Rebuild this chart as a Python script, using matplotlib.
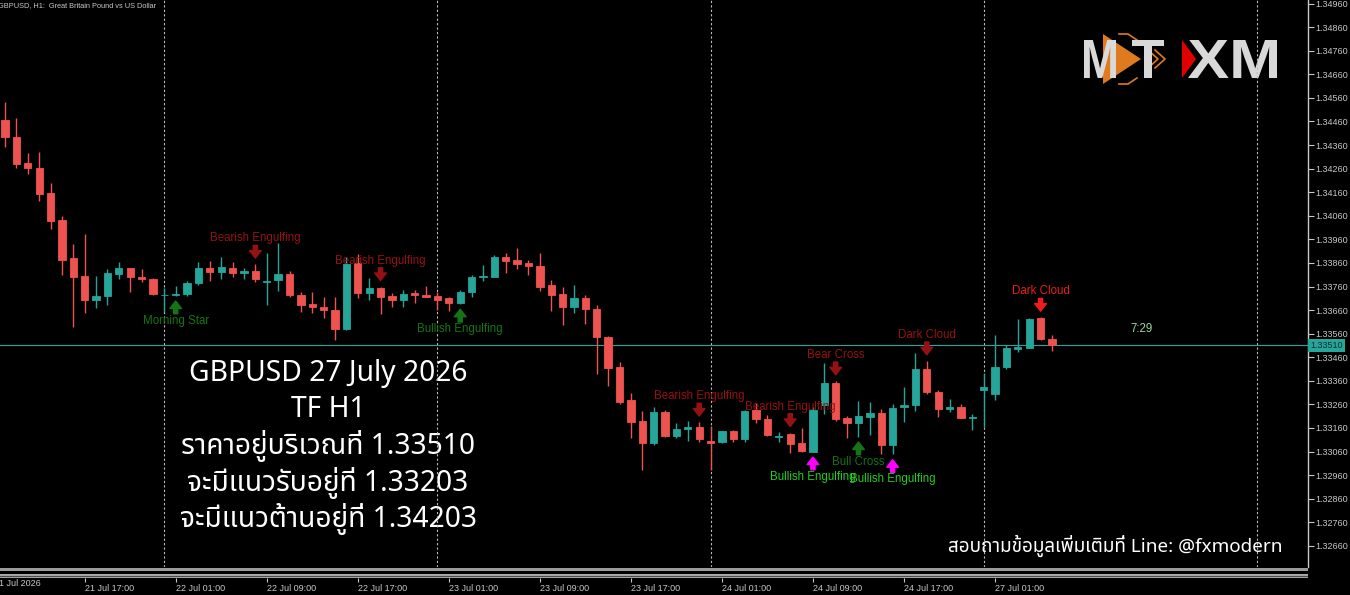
import matplotlib
matplotlib.use('Agg')
import matplotlib.pyplot as plt
from matplotlib.patches import Polygon, PathPatch
from matplotlib.textpath import TextPath
from matplotlib.font_manager import FontProperties
from matplotlib.transforms import Affine2D, blended_transform_factory

# GBPUSD H1, 21 Jul 10:00 .. 27 Jul 06:00
opens = [1.34466, 1.34395, 1.34282, 1.34264, 1.34158, 1.34041, 1.33880, 1.33805, 1.33703, 1.33720,
         1.33813, 1.33837, 1.33802, 1.33792, 1.33722, 1.33724, 1.33727, 1.33773, 1.33840, 1.33823,
         1.33840, 1.33819, 1.33827, 1.33778, 1.33788, 1.33813, 1.33724, 1.33684, 1.33674, 1.33660,
         1.33578, 1.33858, 1.33731, 1.33752, 1.33720, 1.33703, 1.33731, 1.33724, 1.33721, 1.33710,
         1.33689, 1.33738, 1.33799, 1.33802, 1.33884, 1.33872, 1.33858, 1.33847, 1.33766, 1.33728,
         1.33672, 1.33712, 1.33663, 1.33545, 1.33417, 1.33279, 1.33191, 1.33095, 1.33229, 1.33126,
         1.33154, 1.33165, 1.33106, 1.33099, 1.33147, 1.33112, 1.33236, 1.33198, 1.33122, 1.33134,
         1.33095, 1.33059, 1.33257, 1.33349, 1.33204, 1.33180, 1.33208, 1.33222, 1.33088, 1.33248,
         1.33256, 1.33411, 1.33314, 1.33240, 1.33249, 1.33201, 1.33322, 1.33304, 1.33417, 1.33495,
         1.33499, 1.33625, 1.33537]
highs = [1.34544, 1.34476, 1.34327, 1.34332, 1.34198, 1.34059, 1.33940, 1.33983, 1.33805, 1.33833,
         1.33865, 1.33840, 1.33834, 1.33797, 1.33755, 1.33763, 1.33783, 1.33863, 1.33868, 1.33886,
         1.33863, 1.33840, 1.33854, 1.33901, 1.33943, 1.33827, 1.33738, 1.33738, 1.33717, 1.33717,
         1.33884, 1.33898, 1.33795, 1.33759, 1.33734, 1.33745, 1.33745, 1.33762, 1.33738, 1.33714,
         1.33745, 1.33809, 1.33851, 1.33894, 1.33901, 1.33922, 1.33872, 1.33901, 1.33788, 1.33757,
         1.33766, 1.33724, 1.33682, 1.33550, 1.33438, 1.33307, 1.33232, 1.33250, 1.33236, 1.33180,
         1.33190, 1.33184, 1.33168, 1.33148, 1.33151, 1.33236, 1.33265, 1.33215, 1.33142, 1.33140,
         1.33159, 1.33250, 1.33434, 1.33359, 1.33211, 1.33276, 1.33271, 1.33240, 1.33262, 1.33335,
         1.33479, 1.33444, 1.33321, 1.33283, 1.33262, 1.33218, 1.33392, 1.33554, 1.33512, 1.33621,
         1.33625, 1.33629, 1.33554]
lows = [1.34350, 1.34261, 1.34236, 1.34123, 1.34004, 1.33809, 1.33590, 1.33649, 1.33670, 1.33682,
        1.33791, 1.33738, 1.33780, 1.33724, 1.33652, 1.33721, 1.33720, 1.33766, 1.33783, 1.33792,
        1.33799, 1.33792, 1.33780, 1.33682, 1.33741, 1.33717, 1.33650, 1.33646, 1.33625, 1.33533,
        1.33575, 1.33710, 1.33703, 1.33643, 1.33672, 1.33674, 1.33691, 1.33717, 1.33660, 1.33657,
        1.33686, 1.33717, 1.33785, 1.33799, 1.33819, 1.33833, 1.33809, 1.33742, 1.33656, 1.33597,
        1.33646, 1.33601, 1.33389, 1.33338, 1.33260, 1.33116, 1.32982, 1.33088, 1.33123, 1.33119,
        1.33105, 1.33099, 1.32982, 1.33098, 1.33102, 1.33102, 1.33182, 1.33127, 1.33099, 1.33055,
        1.33059, 1.33059, 1.33219, 1.33191, 1.33119, 1.33123, 1.33130, 1.33048, 1.33048, 1.33187,
        1.33232, 1.33303, 1.33205, 1.33228, 1.33201, 1.33151, 1.33165, 1.33279, 1.33409, 1.33483,
        1.33498, 1.33533, 1.33488]
closes = [1.34393, 1.34278, 1.34261, 1.34154, 1.34039, 1.33874, 1.33802, 1.33703, 1.33721, 1.33816,
          1.33837, 1.33799, 1.33791, 1.33728, 1.33725, 1.33730, 1.33773, 1.33840, 1.33820, 1.33843,
          1.33819, 1.33826, 1.33791, 1.33783, 1.33813, 1.33724, 1.33682, 1.33673, 1.33660, 1.33578,
          1.33854, 1.33731, 1.33752, 1.33717, 1.33703, 1.33728, 1.33724, 1.33717, 1.33703, 1.33689,
          1.33738, 1.33802, 1.33806, 1.33886, 1.33869, 1.33854, 1.33847, 1.33759, 1.33724, 1.33672,
          1.33712, 1.33663, 1.33545, 1.33416, 1.33271, 1.33187, 1.33095, 1.33226, 1.33126, 1.33156,
          1.33163, 1.33112, 1.33098, 1.33147, 1.33113, 1.33233, 1.33198, 1.33130, 1.33126, 1.33093,
          1.33064, 1.33236, 1.33349, 1.33198, 1.33180, 1.33212, 1.33222, 1.33088, 1.33246, 1.33257,
          1.33409, 1.33313, 1.33239, 1.33248, 1.33201, 1.33208, 1.33332, 1.33420, 1.33498, 1.33502,
          1.33622, 1.33536, 1.33510]

current_price = 1.33510
price_ticks = [1.32660 + 0.001 * k for k in range(24)]

time_tick_bars = [7, 15, 23, 31, 39, 47, 55, 63, 71, 79, 87]
time_tick_labels = ['21 Jul 17:00', '22 Jul 01:00', '22 Jul 09:00', '22 Jul 17:00', '23 Jul 01:00',
                    '23 Jul 09:00', '23 Jul 17:00', '24 Jul 01:00', '24 Jul 09:00', '24 Jul 17:00',
                    '27 Jul 01:00']
first_label = '21 Jul 2026'
day_sep_bars = [14, 38, 62, 86, 110]

# candle patterns: bar, name, side, text colour, arrow colour
pat_bar = [15, 22, 33, 40, 61, 69, 71, 73, 75, 78, 81, 91]
pat_name = ['Morning Star', 'Bearish Engulfing', 'Bearish Engulfing', 'Bullish Engulfing',
            'Bearish Engulfing', 'Bearish Engulfing', 'Bullish Engulfing', 'Bear Cross',
            'Bull Cross', 'Bullish Engulfing', 'Dark Cloud', 'Dark Cloud']
pat_side = ['below', 'above', 'above', 'below', 'above', 'above', 'below', 'above',
            'below', 'below', 'above', 'above']
DKG, DKR, BRG, MAG, BRR = '#157415', '#961212', '#22cc22', '#ff00ff', '#ee1c1c'
pat_tcol = [DKG, DKR, DKR, DKG, DKR, DKR, BRG, DKR, DKG, BRG, DKR, BRR]
pat_acol = [DKG, DKR, DKR, DKG, DKR, DKR, MAG, DKR, DKG, MAG, DKR, BRR]

info_lines = ['GBPUSD 27 July 2026', 'TF H1', 'ราคาอยู่บริเวณที่ 1.33510',
              'จะมีแนวรับอยู่ที่ 1.33203', 'จะมีแนวต้านอยู่ที่ 1.34203']
contact = 'สอบถามข้อมูลเพิ่มเติมที่ Line: @fxmodern'

BULL = '#26a69a'
BEAR = '#ef5350'
GREY = '#c8c8c8'
W, H = 1350, 595

fig = plt.figure(figsize=(13.5, 5.95), dpi=100, facecolor='black')

# overlay in pixel units (below the chart so separators run over it)
ov = fig.add_axes([0, 0, 1, 1], facecolor='none', zorder=0)
ov.set_xlim(0, W)
ov.set_ylim(H, 0)
ov.axis('off')

ax = fig.add_axes([0, 28 / H, 1308 / W, 567 / H], facecolor='none', zorder=1)
ax.set_xlim(-0.44, 114.5)
ax.set_ylim(1.325705, 1.34975)

n = len(opens)
for i in range(n):
    o, h, l, c = opens[i], highs[i], lows[i], closes[i]
    col = BULL if c >= o else BEAR
    ax.vlines(i, l, h, color=col, lw=1.0, zorder=3)
    ax.bar(i, abs(c - o), bottom=min(o, c), width=0.64, color=col,
           edgecolor=col, linewidth=0.6, zorder=4)

for b in day_sep_bars:
    ax.axvline(b, color='#bdbdbd', lw=0.8, ls=(0, (2, 2)), zorder=2)

ax.axhline(current_price, color=BULL, lw=0.8, zorder=2)

lab_font = dict(family='Liberation Sans', size=8.3)
arrow_style = 'simple,head_length=0.45,head_width=0.7,tail_width=0.25'
for b, name, side, tc, ac in zip(pat_bar, pat_name, pat_side, pat_tcol, pat_acol):
    if side == 'above':
        y = highs[b]
        ax.annotate('', xy=(b, y), xytext=(0, 19), textcoords='offset pixels',
                    arrowprops=dict(arrowstyle=arrow_style, color=ac, shrinkA=0, shrinkB=4.5,
                                    mutation_scale=12), zorder=5)
        ax.annotate(name, xy=(b, y), xytext=(0, 26), textcoords='offset pixels',
                    ha='center', va='center', color=tc, zorder=5, **lab_font)
    else:
        y = lows[b]
        ax.annotate('', xy=(b, y), xytext=(0, -18), textcoords='offset pixels',
                    arrowprops=dict(arrowstyle=arrow_style, color=ac, shrinkA=0, shrinkB=3.8,
                                    mutation_scale=12), zorder=5)
        ax.annotate(name, xy=(b, y), xytext=(0, -25), textcoords='offset pixels',
                    ha='center', va='center', color=tc, zorder=5, **lab_font)

# right price scale
ax.yaxis.tick_right()
ax.set_yticks(price_ticks)
ax.set_yticklabels(['%.5f' % p for p in price_ticks])
ax.tick_params(axis='y', colors=GREY, length=4, width=0.8, pad=1.5, labelsize=6.5)
for t in ax.get_yticklabels():
    t.set_family('Liberation Sans')
ax.set_xticks([])
for s in ['top', 'left', 'bottom']:
    ax.spines[s].set_visible(False)
ax.spines['right'].set_color(GREY)
ax.spines['right'].set_linewidth(1.0)

tr = blended_transform_factory(ax.transAxes, ax.transData)
ax.text(1.0015, current_price, '%.5f' % current_price, transform=tr, ha='left', va='center',
        fontsize=6.5, family='Liberation Sans', color='#0d2e2b', zorder=6, clip_on=False,
        bbox=dict(boxstyle='square,pad=0.25', fc=BULL, ec='none'))

ax.text(1142 / 1308, 1 - 329 / 567, '7:29', transform=ax.transAxes, ha='center', va='center',
        fontsize=8.3, family='Liberation Sans', color='#9fd6a0')

# time strip
ax2 = fig.add_axes([0, 17 / H, 1308 / W, 11 / H], facecolor='black', zorder=1)
ax2.set_xlim(-0.44, 114.5)
ax2.set_ylim(0, 11)
ax2.axhspan(7.5, 10, color='#9a9a9a', lw=0)
ax2.axhspan(0, 4, color='#a8a8a8', lw=0)
ax2.axhline(2, color='#4a4a4a', lw=0.8)
for s in ax2.spines.values():
    s.set_visible(False)
ax2.set_yticks([])
ax2.set_xticks(time_tick_bars)
ax2.set_xticklabels(time_tick_labels, ha='left', family='Liberation Sans')
ax2.tick_params(axis='x', colors=GREY, length=3, width=0.8, pad=1.0, labelsize=6.5)
ax2.text(-1, -1.5, first_label, ha='left', va='top', color=GREY, fontsize=6.5,
         family='Liberation Sans', clip_on=False)

# header
ov.text(-2, 6, 'GBPUSD, H1:  Great Britain Pound vs US Dollar', ha='left', va='center',
        fontsize=5.3, family='Liberation Sans', color=GREY)

# big info block
thai = ['Noto Sans Thai', 'Noto Sans', 'DejaVu Sans']
for k, line in enumerate(info_lines):
    ov.text(328, 373 + 36.6 * k, line, ha='center', va='center', fontsize=20.3,
            family=thai, color='white')
ov.text(1282, 546, contact, ha='right', va='center', fontsize=13.6, family=thai, color='white')


# logo
def word(s, x0, x1, y0, y1, color, z=3):
    tp = TextPath((0, 0), s, size=1, prop=FontProperties(family='Liberation Sans', weight='bold'))
    bb = tp.get_extents()
    t = Affine2D().translate(-bb.x0, -bb.y0).scale((x1 - x0) / bb.width, -(y1 - y0) / bb.height)
    t = t.translate(x0, y1)
    ov.add_patch(PathPatch(tp, transform=t + ov.transData, fc=color, ec='none', zorder=z))


ORG = '#e07a1f'
ov.add_patch(Polygon([(1103, 34), (1141, 59), (1103, 84)], closed=True, fc=ORG, ec='none', zorder=2))
for dx in (0, 7):
    ov.plot([1148 + dx, 1158 + dx, 1148 + dx], [50, 59, 68], color=ORG, lw=1.2, zorder=2)
ov.plot([1119, 1128, 1137], [34, 34, 40], color=ORG, lw=1.2, zorder=2)
ov.plot([1119, 1128, 1137], [84, 84, 78], color=ORG, lw=1.2, zorder=2)
word('M', 1084, 1116, 40, 78, '#d9d9d9')
word('T', 1132, 1164, 40, 78, '#d9d9d9')
ov.add_patch(Polygon([(1182, 40), (1196, 59), (1182, 78)], closed=True, fc='#e00000', ec='none', zorder=2))
word('XM', 1188, 1277, 40, 78, '#d9d9d9')

fig.savefig('out.png', dpi=100, facecolor='black')
